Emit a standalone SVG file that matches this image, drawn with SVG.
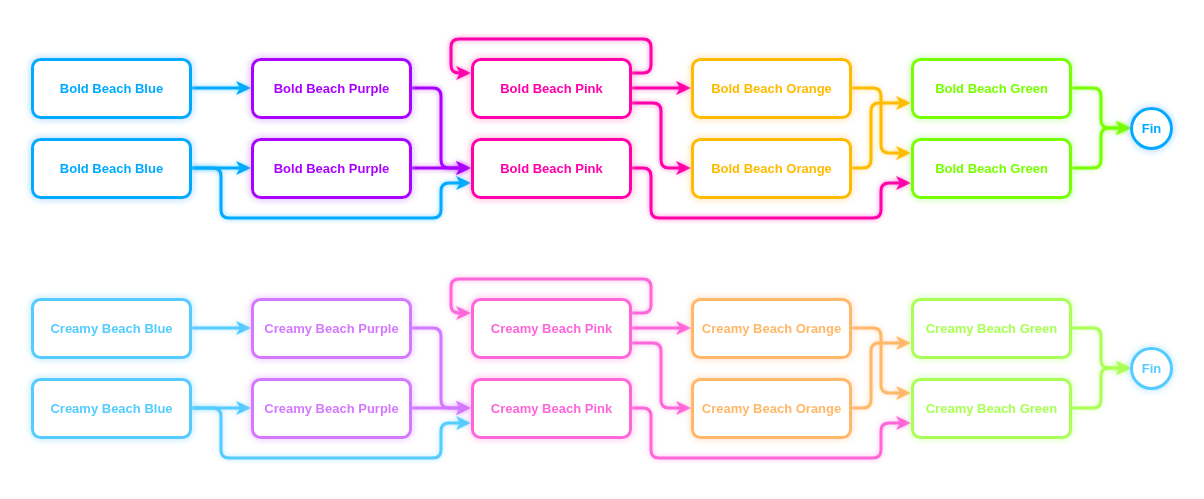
<svg xmlns="http://www.w3.org/2000/svg" width="1204" height="499" viewBox="0 0 1204 499">
<style>
.n rect{fill:#fff;stroke-width:3}
.n circle{fill:#fff;stroke-width:3}
.n text{font-family:"Liberation Sans",Arial,sans-serif;font-weight:bold;font-size:13px;text-anchor:middle}
.c path{fill:none;stroke-width:3}
.g{filter:url(#glow)}
.c .g{filter:url(#glowc)}
</style>
<defs>
<filter id="glow" filterUnits="userSpaceOnUse" x="-20" y="-60" width="1250" height="620">
<feGaussianBlur in="SourceGraphic" stdDeviation="3" result="b"/>
<feComponentTransfer in="b" result="b2"><feFuncA type="linear" slope="0.8"/></feComponentTransfer>
<feMerge><feMergeNode in="b2"/><feMergeNode in="SourceGraphic"/></feMerge>
</filter>
<filter id="glowc" filterUnits="userSpaceOnUse" x="-20" y="-60" width="1250" height="620">
<feGaussianBlur in="SourceGraphic" stdDeviation="2.5" result="b"/>
<feComponentTransfer in="b" result="b2"><feFuncA type="linear" slope="0.5"/></feComponentTransfer>
<feMerge><feMergeNode in="b2"/><feMergeNode in="SourceGraphic"/></feMerge>
</filter>
<marker id="a-b1" markerUnits="userSpaceOnUse" markerWidth="16" markerHeight="16" refX="7" refY="7" orient="auto"><path d="M0,0 L15,7 L0,14 L4,7 z" fill="#00AAFF"/></marker>
<marker id="a-p1" markerUnits="userSpaceOnUse" markerWidth="16" markerHeight="16" refX="7" refY="7" orient="auto"><path d="M0,0 L15,7 L0,14 L4,7 z" fill="#AA00FF"/></marker>
<marker id="a-k1" markerUnits="userSpaceOnUse" markerWidth="16" markerHeight="16" refX="7" refY="7" orient="auto"><path d="M0,0 L15,7 L0,14 L4,7 z" fill="#FF00AA"/></marker>
<marker id="a-o1" markerUnits="userSpaceOnUse" markerWidth="16" markerHeight="16" refX="7" refY="7" orient="auto"><path d="M0,0 L15,7 L0,14 L4,7 z" fill="#FFBB00"/></marker>
<marker id="a-g1" markerUnits="userSpaceOnUse" markerWidth="16" markerHeight="16" refX="7" refY="7" orient="auto"><path d="M0,0 L15,7 L0,14 L4,7 z" fill="#77FF00"/></marker>
<marker id="a-b2" markerUnits="userSpaceOnUse" markerWidth="16" markerHeight="16" refX="7" refY="7" orient="auto"><path d="M0,0 L15,7 L0,14 L4,7 z" fill="#55CCFF"/></marker>
<marker id="a-p2" markerUnits="userSpaceOnUse" markerWidth="16" markerHeight="16" refX="7" refY="7" orient="auto"><path d="M0,0 L15,7 L0,14 L4,7 z" fill="#D478FF"/></marker>
<marker id="a-k2" markerUnits="userSpaceOnUse" markerWidth="16" markerHeight="16" refX="7" refY="7" orient="auto"><path d="M0,0 L15,7 L0,14 L4,7 z" fill="#FF66DA"/></marker>
<marker id="a-o2" markerUnits="userSpaceOnUse" markerWidth="16" markerHeight="16" refX="7" refY="7" orient="auto"><path d="M0,0 L15,7 L0,14 L4,7 z" fill="#FFB86A"/></marker>
<marker id="a-g2" markerUnits="userSpaceOnUse" markerWidth="16" markerHeight="16" refX="7" refY="7" orient="auto"><path d="M0,0 L15,7 L0,14 L4,7 z" fill="#AAFF55"/></marker>
</defs>
<rect width="1204" height="499" fill="#fff"/>

<g id="connectors" class="c">
<g id="connectors-bold">
<path class="g" stroke="#00AAFF" marker-end="url(#a-b1)" d="M191,88 H243"/>
<path class="g" stroke="#00AAFF" marker-end="url(#a-b1)" d="M191,168 H243"/>
<path class="g" stroke="#00AAFF" marker-end="url(#a-b1)" d="M191,168 H213 Q221,168 221,176 V210 Q221,218 229,218 H433 Q441,218 441,210 V191 Q441,183 449,183 H463"/>
<path class="g" stroke="#AA00FF" marker-end="url(#a-p1)" d="M411,88 H433 Q441,88 441,96 V160 Q441,168 449,168 H463"/>
<path class="g" stroke="#AA00FF" marker-end="url(#a-p1)" d="M411,168 H463"/>
<path class="g" stroke="#FF00AA" marker-end="url(#a-k1)" d="M631,73 H643 Q651,73 651,65 V47 Q651,39 643,39 H459 Q451,39 451,47 V65 Q451,73 459,73 H463"/>
<path class="g" stroke="#FF00AA" marker-end="url(#a-k1)" d="M631,88 H683"/>
<path class="g" stroke="#FF00AA" marker-end="url(#a-k1)" d="M631,103 H653 Q661,103 661,111 V160 Q661,168 669,168 H683"/>
<path class="g" stroke="#FF00AA" marker-end="url(#a-k1)" d="M631,168 H643 Q651,168 651,176 V210 Q651,218 659,218 H873 Q881,218 881,210 V191 Q881,183 889,183 H903"/>
<path class="g" stroke="#FFBB00" marker-end="url(#a-o1)" d="M851,88 H873 Q881,88 881,96 V145 Q881,153 889,153 H903"/>
<path class="g" stroke="#FFBB00" marker-end="url(#a-o1)" d="M851,168 H863 Q871,168 871,160 V111 Q871,103 879,103 H903"/>
<path class="g" stroke="#77FF00" marker-end="url(#a-g1)" d="M1071,88 H1093 Q1101,88 1101,96 V120 Q1101,128 1109,128 H1123"/>
<path class="g" stroke="#77FF00" marker-end="url(#a-g1)" d="M1071,168 H1093 Q1101,168 1101,160 V136 Q1101,128 1109,128 H1123"/>
</g>
<g id="connectors-creamy">
<path class="g" stroke="#55CCFF" marker-end="url(#a-b2)" d="M191,328 H243"/>
<path class="g" stroke="#55CCFF" marker-end="url(#a-b2)" d="M191,408 H243"/>
<path class="g" stroke="#55CCFF" marker-end="url(#a-b2)" d="M191,408 H213 Q221,408 221,416 V450 Q221,458 229,458 H433 Q441,458 441,450 V431 Q441,423 449,423 H463"/>
<path class="g" stroke="#D478FF" marker-end="url(#a-p2)" d="M411,328 H433 Q441,328 441,336 V400 Q441,408 449,408 H463"/>
<path class="g" stroke="#D478FF" marker-end="url(#a-p2)" d="M411,408 H463"/>
<path class="g" stroke="#FF66DA" marker-end="url(#a-k2)" d="M631,313 H643 Q651,313 651,305 V287 Q651,279 643,279 H459 Q451,279 451,287 V305 Q451,313 459,313 H463"/>
<path class="g" stroke="#FF66DA" marker-end="url(#a-k2)" d="M631,328 H683"/>
<path class="g" stroke="#FF66DA" marker-end="url(#a-k2)" d="M631,343 H653 Q661,343 661,351 V400 Q661,408 669,408 H683"/>
<path class="g" stroke="#FF66DA" marker-end="url(#a-k2)" d="M631,408 H643 Q651,408 651,416 V450 Q651,458 659,458 H873 Q881,458 881,450 V431 Q881,423 889,423 H903"/>
<path class="g" stroke="#FFB86A" marker-end="url(#a-o2)" d="M851,328 H873 Q881,328 881,336 V385 Q881,393 889,393 H903"/>
<path class="g" stroke="#FFB86A" marker-end="url(#a-o2)" d="M851,408 H863 Q871,408 871,400 V351 Q871,343 879,343 H903"/>
<path class="g" stroke="#AAFF55" marker-end="url(#a-g2)" d="M1071,328 H1093 Q1101,328 1101,336 V360 Q1101,368 1109,368 H1123"/>
<path class="g" stroke="#AAFF55" marker-end="url(#a-g2)" d="M1071,408 H1093 Q1101,408 1101,400 V376 Q1101,368 1109,368 H1123"/>
</g>
</g>

<g id="n-bold-blue-1" class="n g"><rect x="32.5" y="59.5" width="158" height="58" rx="8" stroke="#00AAFF"/><text x="111.5" y="93" fill="#00AAFF">Bold Beach Blue</text></g>
<g id="n-bold-blue-2" class="n g"><rect x="32.5" y="139.5" width="158" height="58" rx="8" stroke="#00AAFF"/><text x="111.5" y="173" fill="#00AAFF">Bold Beach Blue</text></g>
<g id="n-bold-purple-1" class="n g"><rect x="252.5" y="59.5" width="158" height="58" rx="8" stroke="#AA00FF"/><text x="331.5" y="93" fill="#AA00FF">Bold Beach Purple</text></g>
<g id="n-bold-purple-2" class="n g"><rect x="252.5" y="139.5" width="158" height="58" rx="8" stroke="#AA00FF"/><text x="331.5" y="173" fill="#AA00FF">Bold Beach Purple</text></g>
<g id="n-bold-pink-1" class="n g"><rect x="472.5" y="59.5" width="158" height="58" rx="8" stroke="#FF00AA"/><text x="551.5" y="93" fill="#FF00AA">Bold Beach Pink</text></g>
<g id="n-bold-pink-2" class="n g"><rect x="472.5" y="139.5" width="158" height="58" rx="8" stroke="#FF00AA"/><text x="551.5" y="173" fill="#FF00AA">Bold Beach Pink</text></g>
<g id="n-bold-orange-1" class="n g"><rect x="692.5" y="59.5" width="158" height="58" rx="8" stroke="#FFBB00"/><text x="771.5" y="93" fill="#FFBB00">Bold Beach Orange</text></g>
<g id="n-bold-orange-2" class="n g"><rect x="692.5" y="139.5" width="158" height="58" rx="8" stroke="#FFBB00"/><text x="771.5" y="173" fill="#FFBB00">Bold Beach Orange</text></g>
<g id="n-bold-green-1" class="n g"><rect x="912.5" y="59.5" width="158" height="58" rx="8" stroke="#77FF00"/><text x="991.5" y="93" fill="#77FF00">Bold Beach Green</text></g>
<g id="n-bold-green-2" class="n g"><rect x="912.5" y="139.5" width="158" height="58" rx="8" stroke="#77FF00"/><text x="991.5" y="173" fill="#77FF00">Bold Beach Green</text></g>
<g id="n-bold-fin" class="n g"><circle cx="1151.5" cy="128.5" r="20" stroke="#00AAFF"/><text x="1151.5" y="133" fill="#00AAFF">Fin</text></g>

<g id="n-creamy-blue-1" class="n g"><rect x="32.5" y="299.5" width="158" height="58" rx="8" stroke="#55CCFF"/><text x="111.5" y="333" fill="#55CCFF">Creamy Beach Blue</text></g>
<g id="n-creamy-blue-2" class="n g"><rect x="32.5" y="379.5" width="158" height="58" rx="8" stroke="#55CCFF"/><text x="111.5" y="413" fill="#55CCFF">Creamy Beach Blue</text></g>
<g id="n-creamy-purple-1" class="n g"><rect x="252.5" y="299.5" width="158" height="58" rx="8" stroke="#D478FF"/><text x="331.5" y="333" fill="#D478FF">Creamy Beach Purple</text></g>
<g id="n-creamy-purple-2" class="n g"><rect x="252.5" y="379.5" width="158" height="58" rx="8" stroke="#D478FF"/><text x="331.5" y="413" fill="#D478FF">Creamy Beach Purple</text></g>
<g id="n-creamy-pink-1" class="n g"><rect x="472.5" y="299.5" width="158" height="58" rx="8" stroke="#FF66DA"/><text x="551.5" y="333" fill="#FF66DA">Creamy Beach Pink</text></g>
<g id="n-creamy-pink-2" class="n g"><rect x="472.5" y="379.5" width="158" height="58" rx="8" stroke="#FF66DA"/><text x="551.5" y="413" fill="#FF66DA">Creamy Beach Pink</text></g>
<g id="n-creamy-orange-1" class="n g"><rect x="692.5" y="299.5" width="158" height="58" rx="8" stroke="#FFB86A"/><text x="771.5" y="333" fill="#FFB86A">Creamy Beach Orange</text></g>
<g id="n-creamy-orange-2" class="n g"><rect x="692.5" y="379.5" width="158" height="58" rx="8" stroke="#FFB86A"/><text x="771.5" y="413" fill="#FFB86A">Creamy Beach Orange</text></g>
<g id="n-creamy-green-1" class="n g"><rect x="912.5" y="299.5" width="158" height="58" rx="8" stroke="#AAFF55"/><text x="991.5" y="333" fill="#AAFF55">Creamy Beach Green</text></g>
<g id="n-creamy-green-2" class="n g"><rect x="912.5" y="379.5" width="158" height="58" rx="8" stroke="#AAFF55"/><text x="991.5" y="413" fill="#AAFF55">Creamy Beach Green</text></g>
<g id="n-creamy-fin" class="n g"><circle cx="1151.5" cy="368.5" r="20" stroke="#55CCFF"/><text x="1151.5" y="373" fill="#55CCFF">Fin</text></g>
</svg>
